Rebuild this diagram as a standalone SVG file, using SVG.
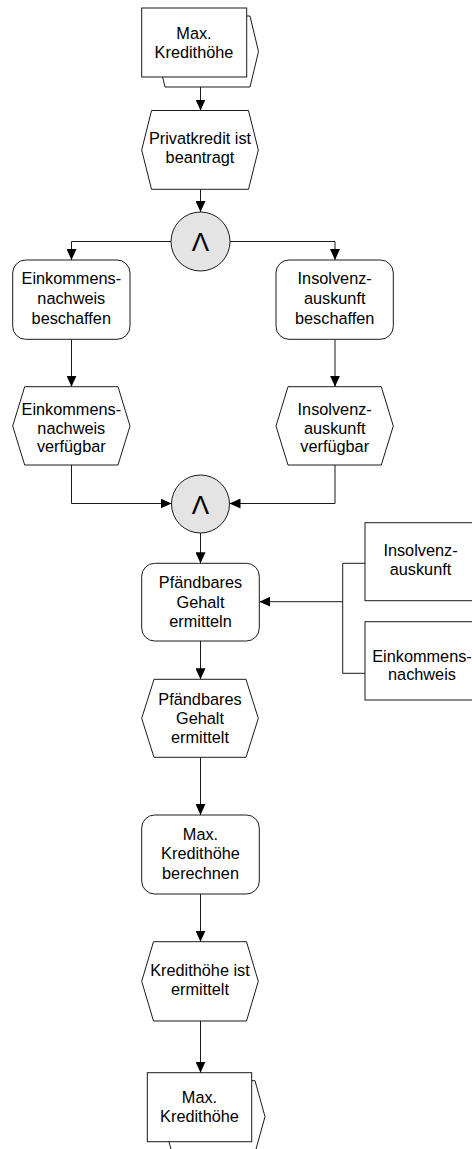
<svg xmlns="http://www.w3.org/2000/svg" width="472" height="1149" viewBox="0 0 472 1149">
  <style>
    .shape { fill: #ffffff; stroke: #1a1a1a; stroke-width: 1; }
    .op { fill: #e4e4e4; stroke: #1a1a1a; stroke-width: 1; }
    .lbl { font-family: "Liberation Sans", Arial, sans-serif; font-size: 16.3px; fill: #000000; text-anchor: middle; }
    .sym { font-family: "Liberation Sans", Arial, sans-serif; font-size: 26px; fill: #000000; text-anchor: middle; }
    .conn { fill: none; stroke: #1a1a1a; stroke-width: 1; }
  </style>
  <defs>
    <marker id="arrow" markerUnits="userSpaceOnUse" markerWidth="11" markerHeight="10" refX="11" refY="5" orient="auto">
      <path d="M0,0 L11,5 L0,10 Z" fill="#000000"/>
    </marker>
  </defs>

  <rect x="0" y="0" width="472" height="1149" fill="#ffffff"/>

  <!-- connectors -->
  <g id="connectors">
    <path class="conn" d="M200.5,87 V110.5" marker-end="url(#arrow)"/>
    <path class="conn" d="M200.5,189.3 V212" marker-end="url(#arrow)"/>
    <path class="conn" d="M171,241.5 H71.5 V260" marker-end="url(#arrow)"/>
    <path class="conn" d="M230,241.5 H335 V260" marker-end="url(#arrow)"/>
    <path class="conn" d="M71.5,339.3 V386.7" marker-end="url(#arrow)"/>
    <path class="conn" d="M335,339.3 V386.7" marker-end="url(#arrow)"/>
    <path class="conn" d="M71.5,465 V503.5 H171.5" marker-end="url(#arrow)"/>
    <path class="conn" d="M335,465 V503.5 H229.5" marker-end="url(#arrow)"/>
    <path class="conn" d="M200.5,533 V563.3" marker-end="url(#arrow)"/>
    <path class="conn" d="M365,563.3 H342.7 V673.3 H365"/>
    <path class="conn" d="M342.7,601.7 H259.3" marker-end="url(#arrow)"/>
    <path class="conn" d="M200.5,641 V679.3" marker-end="url(#arrow)"/>
    <path class="conn" d="M200.5,757.3 V815" marker-end="url(#arrow)"/>
    <path class="conn" d="M200.5,894 V941.7" marker-end="url(#arrow)"/>
    <path class="conn" d="M200.5,1021 V1072.7" marker-end="url(#arrow)"/>
  </g>

  <!-- information object: Max. Kredithöhe (input) -->
  <g id="doc-top">
    <polygon class="shape" points="156.5,51.5 165,16 250,16 258.5,51.5 250,87 165,87"/>
    <rect class="shape" x="141.7" y="8" width="105" height="69"/>
    <text class="lbl" x="194" y="39.3">Max.</text>
    <text class="lbl" x="194" y="57.5">Kredithöhe</text>
  </g>

  <g id="ev-beantragt">
    <polygon class="shape" points="141.7,150 151.5,110.5 248.5,110.5 258.3,150 248.5,189.3 151.5,189.3"/>
    <text class="lbl" x="200" y="144.3">Privatkredit ist</text>
    <text class="lbl" x="200" y="163.3">beantragt</text>
  </g>

  <g id="and-split">
    <circle class="op" cx="200.5" cy="241.5" r="29.5"/>
    <text class="sym" x="200.5" y="251">Λ</text>
  </g>

  <g id="fn-einkommen">
    <rect class="shape" x="12.7" y="260" width="117.3" height="79.3" rx="13" ry="13"/>
    <text class="lbl" x="71.3" y="284.3">Einkommens-</text>
    <text class="lbl" x="71.3" y="304.3">nachweis</text>
    <text class="lbl" x="71.3" y="324">beschaffen</text>
  </g>

  <g id="fn-insolvenz">
    <rect class="shape" x="276" y="260" width="117.3" height="79.3" rx="13" ry="13"/>
    <text class="lbl" x="334.7" y="284.3">Insolvenz-</text>
    <text class="lbl" x="334.7" y="304.3">auskunft</text>
    <text class="lbl" x="334.7" y="324">beschaffen</text>
  </g>

  <g id="ev-einkommen">
    <polygon class="shape" points="12.7,426 24.7,386.7 118,386.7 130,426 118,465 24.7,465"/>
    <text class="lbl" x="71.3" y="415">Einkommens-</text>
    <text class="lbl" x="71.3" y="433.5">nachweis</text>
    <text class="lbl" x="71.3" y="452">verfügbar</text>
  </g>

  <g id="ev-insolvenz">
    <polygon class="shape" points="276,426 288,386.7 381.3,386.7 393.3,426 381.3,465 288,465"/>
    <text class="lbl" x="334.7" y="415">Insolvenz-</text>
    <text class="lbl" x="334.7" y="433.5">auskunft</text>
    <text class="lbl" x="334.7" y="452">verfügbar</text>
  </g>

  <g id="and-join">
    <circle class="op" cx="200.5" cy="504" r="29"/>
    <text class="sym" x="200.5" y="513.5">Λ</text>
  </g>

  <g id="fn-gehalt">
    <rect class="shape" x="141.7" y="563.3" width="117.6" height="77.7" rx="13" ry="13"/>
    <text class="lbl" x="200.5" y="587.7">Pfändbares</text>
    <text class="lbl" x="200.5" y="607.5">Gehalt</text>
    <text class="lbl" x="200.5" y="627.3">ermitteln</text>
  </g>

  <g id="in-insolvenz">
    <rect class="shape" x="365" y="522.7" width="115" height="78"/>
    <text class="lbl" x="420.5" y="556">Insolvenz-</text>
    <text class="lbl" x="420.5" y="575">auskunft</text>
  </g>

  <g id="in-einkommen">
    <rect class="shape" x="365" y="621.7" width="115" height="78.3"/>
    <text class="lbl" x="422" y="661.7">Einkommens-</text>
    <text class="lbl" x="422" y="680">nachweis</text>
  </g>

  <g id="ev-gehalt">
    <polygon class="shape" points="141.7,718.3 154,679.3 246,679.3 258.3,718.3 246,757.3 154,757.3"/>
    <text class="lbl" x="200" y="705">Pfändbares</text>
    <text class="lbl" x="200" y="723.8">Gehalt</text>
    <text class="lbl" x="200" y="742.7">ermittelt</text>
  </g>

  <g id="fn-berechnen">
    <rect class="shape" x="141.7" y="815" width="117.6" height="79" rx="13" ry="13"/>
    <text class="lbl" x="200.5" y="840">Max.</text>
    <text class="lbl" x="200.5" y="859.3">Kredithöhe</text>
    <text class="lbl" x="200.5" y="878.5">berechnen</text>
  </g>

  <g id="ev-ermittelt">
    <polygon class="shape" points="141.7,981.3 153.5,941.7 246.5,941.7 258.3,981.3 246.5,1021 153.5,1021"/>
    <text class="lbl" x="200" y="976">Kredithöhe ist</text>
    <text class="lbl" x="200" y="995">ermittelt</text>
  </g>

  <!-- information object: Max. Kredithöhe (output) -->
  <g id="doc-bottom">
    <polygon class="shape" points="162,1116.7 172,1080.7 255,1080.7 265,1116.7 255,1152.7 172,1152.7"/>
    <rect class="shape" x="147.3" y="1072.7" width="104.4" height="69"/>
    <text class="lbl" x="199.5" y="1102.7">Max.</text>
    <text class="lbl" x="199.5" y="1121.7">Kredithöhe</text>
  </g>
</svg>
